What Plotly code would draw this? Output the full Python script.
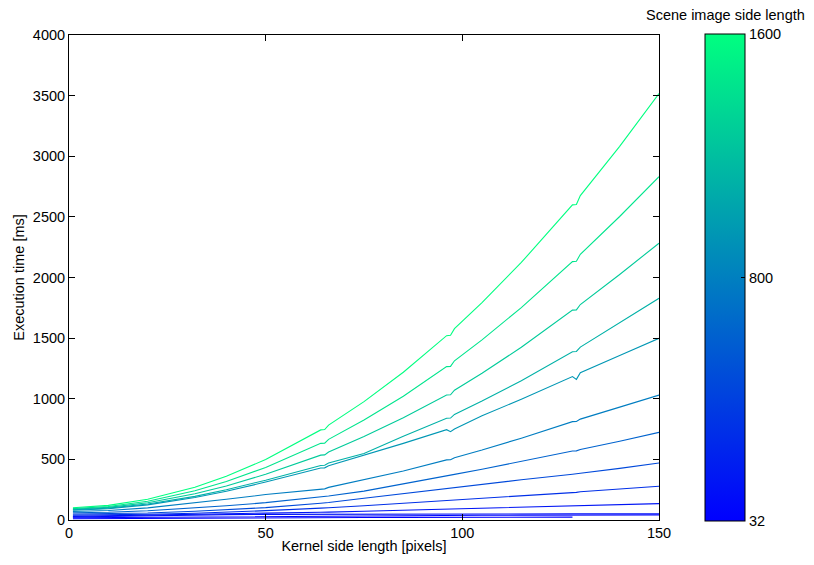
import plotly.graph_objects as go

# Kernel side lengths (x samples)
K = [1, 10, 20, 32, 40, 50, 64, 65, 66, 75, 85, 96, 97, 98, 105, 115, 128, 129, 130, 140, 150]
K_SHORT = K[:17]

# Scene image side lengths (colour values) per series
SCENE_SIZES = [1600, 1440, 1280, 1120, 960, 800, 640, 480, 320, 160, 128, 64, 32]

# Execution times [ms] per scene size
T1600 = [101, 121, 171, 270, 360, 499, 743, 746, 783, 976, 1219, 1520, 1523, 1578, 1793, 2124, 2599, 2602, 2676, 3082, 3517]
T1440 = [94, 111, 155, 241, 317, 433, 632, 634, 665, 824, 1021, 1265, 1267, 1313, 1486, 1752, 2131, 2134, 2191, 2503, 2831]
T1280 = [89, 104, 142, 216, 281, 377, 535, 537, 561, 689, 844, 1031, 1033, 1070, 1210, 1425, 1731, 1733, 1777, 2025, 2283]
T1120 = [85, 98, 132, 195, 250, 328, 450, 452, 470, 548, 690, 839, 841, 871, 981, 1149, 1388, 1390, 1426, 1624, 1829]
T960 = [81, 93, 125, 185, 237, 313, 429, 430, 447, 533, 632, 745, 728, 750, 859, 996, 1183, 1160, 1215, 1356, 1498]
T800 = [70, 78, 100, 140, 171, 210, 256, 257, 269, 330, 404, 496, 497, 514, 577, 675, 811, 812, 832, 931, 1030]
T640 = [60, 64, 76, 98, 117, 143, 190, 191, 198, 238, 296, 363, 364, 376, 419, 485, 569, 570, 582, 650, 723]
T480 = [50, 52, 58, 72, 84, 102, 138, 139, 144, 179, 218, 261, 262, 268, 295, 332, 377, 378, 385, 426, 470]
T320 = [40, 42, 47, 56, 64, 77, 98, 98, 101, 118, 138, 160, 160, 164, 178, 200, 228, 228, 233, 255, 278]
T160 = [30, 34, 40, 47, 52, 57, 64, 64, 65, 72, 81, 91, 91, 92, 98, 106, 115, 115, 116, 126, 135]
T128 = [25, 30, 36, 41, 44, 46, 48, 48, 48, 49, 49, 50, 50, 50, 50, 51, 51, 51, 51, 52, 52]
T64 = [18, 20, 25, 28, 30, 32, 34, 34, 34, 35, 36, 38, 38, 38, 39, 40, 41, 41, 41, 42, 42]
T32 = [10, 12, 14, 16, 17, 18, 20, 20, 20, 21, 22, 23, 23, 23, 23, 24, 24]

SERIES = [T1600, T1440, T1280, T1120, T960, T800, T640, T480, T320, T160, T128, T64, T32]

X_TICKS = [0, 50, 100, 150]
Y_TICKS = [0, 500, 1000, 1500, 2000, 2500, 3000, 3500, 4000]
CB_TICKVALS = [32, 816, 1600]
CB_TICKTEXT = ["32", "800", "1600"]

CMIN, CMAX = 32, 1600
FONT = "Liberation Sans, Arial, Helvetica, sans-serif"
FS = 14.5


def winter(v):
    t = (v - CMIN) / (CMAX - CMIN)
    t = max(0.0, min(1.0, t))
    return "rgb(0,%d,%d)" % (round(255 * t), round(255 * (1 - 0.5 * t)))


fig = go.Figure()
for size, ys in zip(SCENE_SIZES, SERIES):
    xs = K if len(ys) == len(K) else K_SHORT
    fig.add_trace(go.Scatter(
        x=xs, y=ys, mode="lines",
        line=dict(color=winter(size), width=1.1),
        showlegend=False, hoverinfo="skip",
    ))

# colourbar carrier trace
fig.add_trace(go.Scatter(
    x=[None, None], y=[None, None], mode="markers",
    marker=dict(
        color=[CMIN, CMAX], cmin=CMIN, cmax=CMAX,
        colorscale=[[0, "rgb(0,0,255)"], [1, "rgb(0,255,128)"]],
        showscale=True,
        colorbar=dict(
            x=1.078, xanchor="left", xref="paper",
            y=0.5, yanchor="middle", len=1.004, lenmode="fraction",
            thickness=40, thicknessmode="pixels",
            outlinewidth=1, outlinecolor="black",
            tickmode="array", tickvals=CB_TICKVALS, ticktext=CB_TICKTEXT,
            ticks="inside", ticklen=4, tickcolor="black",
            tickfont=dict(family=FONT, size=FS, color="black"),
            xpad=0, ypad=0,
        ),
    ),
    showlegend=False, hoverinfo="skip",
))

fig.add_annotation(
    text="Scene image side length", xref="paper", yref="paper",
    x=(725 - 69) / 590, y=1.0, yshift=20, xanchor="center", yanchor="middle",
    showarrow=False, font=dict(family=FONT, size=FS, color="black"),
)

axis_common = dict(
    showline=True, linecolor="black", linewidth=1, mirror="allticks",
    ticks="inside", ticklen=6, tickcolor="black", showgrid=False, zeroline=False,
    tickfont=dict(family=FONT, size=FS, color="black"),
)

fig.update_layout(
    width=814, height=565,
    margin=dict(l=69, r=155, t=35, b=45),
    paper_bgcolor="white", plot_bgcolor="white",
    xaxis=dict(range=[0, 150], tickvals=X_TICKS,
               title=dict(text="Kernel side length [pixels]", standoff=0,
                          font=dict(family=FONT, size=FS, color="black")),
               **axis_common),
    yaxis=dict(range=[0, 4000], tickvals=Y_TICKS,
               title=dict(text="Execution time [ms]", standoff=4,
                          font=dict(family=FONT, size=FS, color="black")),
               **axis_common),
)

fig.write_html("out.html")
